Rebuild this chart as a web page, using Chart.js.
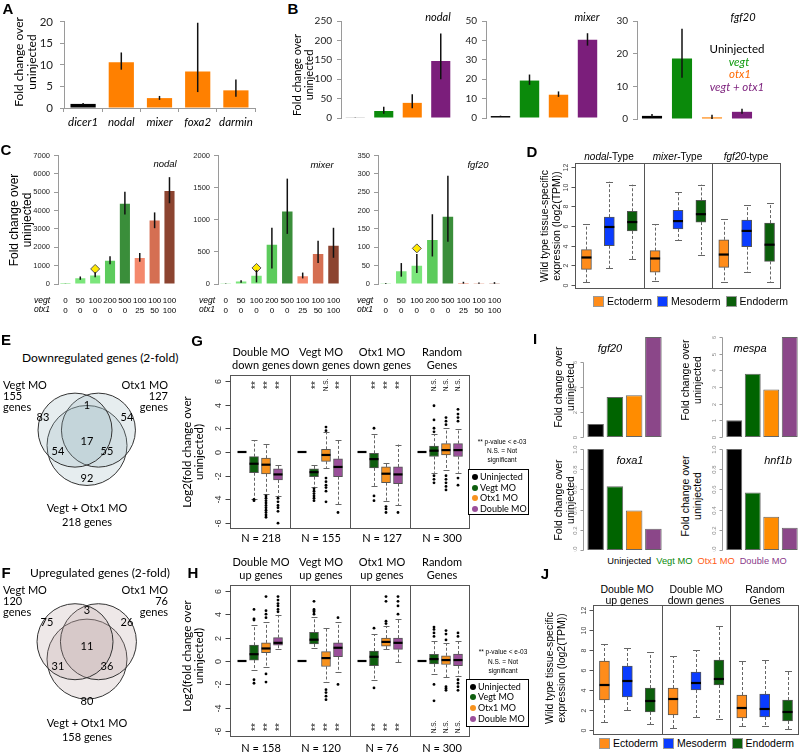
<!DOCTYPE html>
<html><head><meta charset="utf-8">
<script src="https://cdn.jsdelivr.net/npm/chart.js@4.4.1/dist/chart.umd.min.js"></script>
<style>
html,body{margin:0;padding:0;background:#fff}
body{position:relative;width:800px;height:752px;overflow:hidden;font-family:'Liberation Sans',Arial,sans-serif}
canvas{position:absolute;z-index:1}
.t{position:absolute;white-space:nowrap;line-height:1.1;z-index:3;text-align:center}
.box{position:absolute;z-index:2;border:1px solid #000;background:#fff;box-sizing:border-box}
.dot{position:absolute;z-index:3;border-radius:50%;width:6px;height:6px;transform:translate(-50%,-50%)}
.lg{position:absolute;z-index:3;display:flex;align-items:center;white-space:nowrap;transform:translate(-50%,-50%);font-size:10.5px}
.sw{display:inline-block;width:9px;height:9px;border:1px solid #999;margin:0 3px 0 5px}
.il{position:absolute;z-index:3;display:flex;gap:5px;white-space:nowrap;transform:translate(-50%,-50%);font-size:9.3px}
</style></head><body>
<script>
// ================= DATA =================
// Panel A
const aGenes = ['dicer1', 'nodal', 'mixer', 'foxa2', 'darmin'];
const aFold = [0.95, 10.6, 2.3, 8.5, 4.1];
const aLo = [0.8, 8.9, 1.9, 3.7, 2.6];
const aHi = [1.15, 12.9, 2.8, 19.8, 6.6];
// Panel B
const bConds = ['Uninjected', 'vegt', 'otx1', 'vegt + otx1'];
const bNodal = [1, 18, 39, 147];
const bNodalLo = [0.5, 11, 25, 100];
const bNodalHi = [1.5, 29, 61, 218];
const bMixer = [1, 19.3, 12, 40.3];
const bMixerLo = [0.8, 17.1, 10.9, 37.3];
const bMixerHi = [1.2, 22.4, 13.7, 43.7];
const bFgf20 = [0.95, 18.5, 0.5, 2.2];
const bFgf20Lo = [0.5, 12.6, 0, 1.6];
const bFgf20Hi = [1.5, 27.6, 1.3, 3.1];
// Panel C
const cVegt = ['0', '50', '100', '200', '500', '100', '100', '100'];
const cOtx1 = ['0', '0', '0', '0', '0', '25', '50', '100'];
const cNodal = [5, 320, 460, 1260, 4370, 1420, 3460, 5060];
const cNodalLo = [0, 230, 370, 1080, 3780, 1210, 3040, 4400];
const cNodalHi = [10, 410, 640, 1510, 5020, 1690, 3900, 5820];
const cNodalMark = [null, null, 820, null, null, null, null, null];
const cMixer = [3, 40, 127, 611, 1130, 122, 468, 595];
const cMixerLo = [0, 20, 25, 240, 780, 87, 325, 408];
const cMixerHi = [6, 60, 219, 875, 1640, 178, 672, 875];
const cMixerMark = [null, null, 250, null, null, null, null, null];
const cFgf20 = [1, 35, 50, 120, 183, 3, 2, 2];
const cFgf20Lo = [0, 20, 30, 75, 115, 1, 0.5, 0.5];
const cFgf20Hi = [2, 57, 82, 190, 295, 6, 4, 5];
const cFgf20Mark = [null, null, 97, null, null, null, null, null];
// Panel D  [min, q1, median, q3, max] per gene type
const tissues = ['Ectoderm', 'Mesoderm', 'Endoderm'];
const dTypes = ['nodal', 'mixer', 'fgf20'];
const dEcto = [[0.3, 1.6, 2.8, 3.6, 6.2], [0.4, 1.3, 2.7, 3.5, 6.2], [0.3, 1.8, 3.1, 4.6, 6.7]];
const dMeso = [[1.7, 4.0, 5.9, 6.9, 10.5], [4.6, 5.7, 6.5, 7.6, 9.5], [1.3, 3.9, 5.5, 6.6, 8.1]];
const dEndo = [[2.6, 5.5, 6.4, 7.5, 10.2], [3.1, 6.4, 7.2, 8.6, 10.2], [0.3, 2.4, 4.1, 6.3, 8.3]];
const tpmTicks = [0, 2, 4, 6, 8, 10, 12];
// Panels E / F (Venn)
const vennSets = ['Vegt MO', 'Otx1 MO', 'Vegt + Otx1 MO'];
// regions: Vegt only, Otx1 only, Double only, Vegt&Otx1, Vegt&Double, Otx1&Double, all three
const eTotals = [155, 127, 218];
const eRegions = [83, 54, 92, 1, 54, 55, 17];
const fTotals = [120, 76, 158];
const fRegions = [75, 26, 80, 3, 31, 36, 11];
// Panels G / H
const moConds = ['Uninjected', 'Vegt MO', 'Otx1 MO', 'Double MO'];
const log2Ticks = [-6, -4, -2, 0, 2, 4, 6];
const gSets = [['Double MO', 'down genes'], ['Vegt MO', 'down genes'], ['Otx1 MO', 'down genes'], ['Random', 'Genes']];
const gN = [218, 155, 127, 300];
const gVegt = [[-3.94, -1.75, -0.99, -0.39, 0.99], [-2.98, -2.08, -1.70, -1.42, -1.07], [-2.85, -1.34, -0.60, -0.11, 1.5], [-1.75, -0.38, 0.11, 0.49, 1.5]];
const gOtx1 = [[-3.53, -1.84, -1.07, -0.52, 0.71], [-1.34, -0.79, -0.25, 0.22, 1.67], [-4.16, -2.58, -1.83, -1.26, -0.93], [-1.5, -0.25, 0.16, 0.71, 2.0]];
const gDouble = [[-3.67, -2.36, -1.89, -1.42, -1.07], [-4.4, -2.08, -1.26, -0.58, 0.99], [-4.5, -2.66, -1.89, -1.26, 0.63], [-1.75, -0.38, 0.16, 0.71, 1.9]];
const gVegtOut = [[-4.0, -4.1], [-3.1, -3.3, -3.5, -3.7, -3.9, -4.1], [2.0, -3.7, -4.1], [3.9, 2.7, 2.0, 1.7, -2.0, -2.3, -2.6]];
const gOtx1Out = [[-3.7, -3.9, -4.1, -4.3, -4.5, -4.7, -4.9, -5.1, -5.3, -5.5], [2.1, 1.8, -2.2, -2.5, -2.8, -3.0, -3.3, -4.2], [-4.6, -4.8, -5.1], [2.9, 2.6, 2.3, -2.0, -2.3, -2.6, -2.9, -3.2]];
const gDoubleOut = [[-3.9, -4.2, -4.5, -4.7, -5.0, -6.0], [-5.1], [-5.1], [3.6, 3.2, 2.9, 2.6, -2.2, -2.8]];
const gSig = [['**', '**', '**'], ['**', 'N.S.', '**'], ['**', '**', '**'], ['N.S.', 'N.S.', 'N.S.']];
const hSets = [['Double MO', 'up genes'], ['Vegt MO', 'up genes'], ['Otx1 MO', 'up genes'], ['Random', 'Genes']];
const hN = [158, 120, 76, 300];
const hVegt = [[-0.74, 0.08, 0.58, 1.35, 3.06], [1.13, 1.46, 1.82, 2.45, 3.74], [-1.63, -0.39, 0.36, 0.85, 2.29], [-1.1, -0.25, 0.16, 0.58, 1.7]];
const hOtx1 = [[-0.52, 0.72, 1.07, 1.55, 3.33], [-1.76, -0.47, 0.25, 0.8, 2.78], [0.99, 1.27, 1.63, 1.96, 3.0], [-1.4, -0.3, 0.08, 0.45, 1.5]];
const hDouble = [[0.99, 1.35, 1.55, 2.0, 3.94], [-0.93, 0.36, 1.13, 1.55, 3.33], [-0.1, 0.99, 1.55, 1.96, 3.6], [-1.3, -0.4, 0.08, 0.6, 1.7]];
const hVegtOut = [[4.4, 3.6, 3.5, -1.6, -1.9], [5.1, 4.4, 4.3, 4.2, 4.0], [2.8, -2.3], [2.1, 2.4, 2.7, 2.9, -2.0, -3.4]];
const hOtx1Out = [[5.5, 4.3, 4.0, 3.7, -1.1, -1.8], [-2.45, -2.7, -3.0, -3.3], [5.5, 5.1, 3.4, 3.2], [1.8, 2.3, 2.6, -2.2, -2.35, -2.5]];
const hDoubleOut = [[5.5, 5.2, 4.9, 4.7, 4.4, 4.2], [3.7, -2.0], [5.5, 5.1, 4.7, 4.0], [2.1, 2.4, -1.6, -1.9, -2.2, -2.5]];
const hSig = [['**', '**', '**'], ['**', '**', '**'], ['**', '**', '**'], ['N.S.', 'N.S.', 'N.S.']];
// Panel I
const iConds = ['Uninjected', 'Vegt MO', 'Otx1 MO', 'Double MO'];
const iFgf20 = [1.05, 3.2, 3.35, 8];
const iMespa = [1, 3.8, 2.85, 6];
const iFoxa1 = [1, 0.63, 0.39, 0.21];
const iHnf1b = [1, 0.57, 0.33, 0.22];
const iFgfTicks = [0, 2, 4, 6];
const iMespaTicks = [0, 1, 2, 3, 4, 5, 6];
const iFracTicks = [0, 0.2, 0.4, 0.6, 0.8, 1.0];
// Panel J
const jSets = [['Double MO', 'up genes'], ['Double MO', 'down genes'], ['Random', 'Genes']];
const jEcto = [[0.8, 3.0, 4.5, 6.9, 8.6], [0.2, 1.5, 3.1, 4.2, 7.4], [0.4, 1.2, 2.2, 3.5, 6.9]];
const jMeso = [[2.0, 3.3, 4.9, 6.4, 8.2], [1.3, 4.0, 4.7, 5.8, 8.0], [0.4, 1.3, 2.1, 3.6, 7.0]];
const jEndo = [[0.6, 1.8, 2.9, 4.2, 7.8], [1.1, 4.5, 5.1, 7.0, 10.4], [0.1, 0.9, 1.8, 3.0, 5.9]];

// ================= STYLE =================
const LATO = "Lato, 'Open Sans', sans-serif";
const ARIAL = "'Liberation Sans', Arial, sans-serif";
const ORANGE = '#ff8000';
const bCol = ['#000000', '#0b8a0b', '#ff8000', '#7b1e7b'];
const cCol = ['#7be67b', '#7be67b', '#7be67b', '#5ccb5c', '#3a8e3a', '#f4886c', '#d56f52', '#8c4430'];
const TIS_COL = ['#ff8c1a', '#0a3cff', '#0b5e0b'];
const MO_COL = ['#000000', '#0e5e0e', '#f7921e', '#9a4f9a'];
const iCol = ['#000000', '#006400', '#ff8c00', '#8b4789'];

// ================= PLUGINS =================
const errPlugin = {
  id: 'errbars',
  afterDatasetsDraw(chart) {
    const ctx = chart.ctx;
    chart.data.datasets.forEach((ds, di) => {
      if (!ds.errLo) return;
      const meta = chart.getDatasetMeta(di);
      const ys = chart.scales[meta.yAxisID];
      ctx.save();
      ctx.strokeStyle = '#111'; ctx.lineWidth = 1.5;
      meta.data.forEach((el, i) => {
        ctx.beginPath();
        ctx.moveTo(el.x, ys.getPixelForValue(ds.errLo[i]));
        ctx.lineTo(el.x, ys.getPixelForValue(ds.errHi[i]));
        ctx.stroke();
      });
      ctx.restore();
    });
  }
};
const rbox = {
  id: 'rbox',
  beforeDatasetsDraw(chart) {
    const o = chart.canvas._rb; if (!o || !o.items) return;
    const {ctx, scales: {x, y}} = chart;
    ctx.save();
    ctx.strokeStyle = '#666'; ctx.lineWidth = 1;
    o.items.forEach(it => {
      const s = it.s; if (s[0] === s[4]) return;
      const px = Math.round(x.getPixelForValue(it.x)) + 0.5;
      ctx.setLineDash([3, 2]);
      ctx.beginPath();
      ctx.moveTo(px, y.getPixelForValue(s[3])); ctx.lineTo(px, y.getPixelForValue(s[4]));
      ctx.moveTo(px, y.getPixelForValue(s[1])); ctx.lineTo(px, y.getPixelForValue(s[0]));
      ctx.stroke();
      ctx.setLineDash([]);
      const cw = o.capW || 3.5;
      ctx.beginPath();
      [s[0], s[4]].forEach(v => { const py = Math.round(y.getPixelForValue(v)) + 0.5; ctx.moveTo(px - cw, py); ctx.lineTo(px + cw, py); });
      ctx.stroke();
    });
    ctx.restore();
  },
  afterDatasetsDraw(chart) {
    const o = chart.canvas._rb; if (!o) return;
    const {ctx, chartArea: ca, scales: {x, y}} = chart;
    ctx.save();
    if (o.items) o.items.forEach(it => {
      const px = x.getPixelForValue(it.x), py = y.getPixelForValue(it.s[2]);
      const mw = o.medW || 5;
      ctx.strokeStyle = '#000'; ctx.lineWidth = 2.2;
      ctx.beginPath(); ctx.moveTo(px - mw, py); ctx.lineTo(px + mw, py); ctx.stroke();
    });
    ctx.strokeStyle = '#555'; ctx.lineWidth = 1;
    if (o.frame) ctx.strokeRect(Math.round(ca.left) + 0.5, Math.round(ca.top) + 0.5, Math.round(ca.width) - 1, Math.round(ca.height) - 1);
    (o.dividers || []).forEach(d => {
      const px = Math.round(x.getPixelForValue(d)) + 0.5;
      ctx.beginPath(); ctx.moveTo(px, ca.top); ctx.lineTo(px, ca.bottom); ctx.stroke();
    });
    (o.sig || []).forEach(sg => {
      const px = x.getPixelForValue(sg.x);
      const py = sg.top ? ca.top + sg.off : ca.bottom - sg.off;
      ctx.save(); ctx.translate(px, py); ctx.rotate(-Math.PI / 2);
      ctx.fillStyle = '#111'; ctx.font = (sg.t === '**' ? '10px ' : '6.5px ') + ARIAL;
      ctx.textAlign = 'center'; ctx.textBaseline = 'middle';
      ctx.fillText(sg.t, 0, sg.t === '**' ? 2 : 0);
      ctx.restore();
    });
    if (o.yaxis) {
      const ya = o.yaxis, ax = Math.round(ca.left - (ya.off || 0)) + 0.5;
      const ps = ya.ticks.map(v => Math.round(y.getPixelForValue(v)) + 0.5);
      ctx.strokeStyle = ya.color; ctx.lineWidth = 1;
      ctx.beginPath();
      if (ya.line) { ctx.moveTo(ax, Math.min(...ps)); ctx.lineTo(ax, Math.max(...ps)); }
      ps.forEach(p => { ctx.moveTo(ax, p); ctx.lineTo(ax - ya.len, p); });
      ctx.stroke();
      ctx.fillStyle = ya.tcolor; ctx.font = ya.font; ctx.textAlign = 'center'; ctx.textBaseline = 'middle';
      ya.ticks.forEach((v, i) => {
        ctx.save(); ctx.translate(ax - ya.lab, ps[i]); ctx.rotate(-Math.PI / 2);
        ctx.fillText(ya.dec ? v.toFixed(ya.dec) : String(v), 0, 0); ctx.restore();
      });
    }
    ctx.restore();
  }
};
Chart.register(errPlugin, rbox);

// ================= HELPERS =================
function mk(rect, o, cfg) {
  const [l, t, r, b] = rect;
  const yw = o.yw || 0, xh = o.xh || 0, pl = o.pl || 0, pt = o.pt || 0, pr = o.pr || 0, pb = o.pb || 0;
  const W = Math.round(r - l + yw + pl + pr), H = Math.round(b - t + xh + pt + pb);
  const c = document.createElement('canvas');
  c.width = W; c.height = H;
  c.style.left = Math.round(l - yw - pl) + 'px'; c.style.top = Math.round(t - pt) + 'px';
  c.style.width = W + 'px'; c.style.height = H + 'px';
  if (o.rb) c._rb = o.rb;
  document.body.appendChild(c);
  const op = cfg.options = cfg.options || {};
  op.responsive = false; op.maintainAspectRatio = false; op.animation = false; op.devicePixelRatio = 1;
  op.layout = {padding: {left: pl, top: pt, right: pr, bottom: pb}};
  op.plugins = {legend: {display: false}, tooltip: {enabled: false}};
  const sc = op.scales || {};
  if (sc.y && sc.y.display !== false) sc.y.afterFit = s => { s.width = yw; };
  if (sc.x && sc.x.display !== false) sc.x.afterFit = s => { s.height = xh; };
  return new Chart(c, cfg);
}
function T(x, y, html, o = {}) {
  const d = document.createElement('div');
  d.className = 't'; d.innerHTML = html;
  let tr = 'translate(-50%,-50%)';
  if (o.rot) tr = 'translate(-50%,-50%) rotate(-90deg)';
  else if (o.a === 'l') { tr = 'translate(0,-50%)'; d.style.textAlign = 'left'; }
  else if (o.a === 'r') { tr = 'translate(-100%,-50%)'; d.style.textAlign = 'right'; }
  d.style.left = x + 'px'; d.style.top = y + 'px'; d.style.transform = tr;
  d.style.fontSize = (o.fs || 11) + 'px'; d.style.fontFamily = o.ff || ARIAL; d.style.color = o.c || '#000';
  if (o.i) d.style.fontStyle = 'italic';
  if (o.b) d.style.fontWeight = 'bold';
  if (o.lh) d.style.lineHeight = o.lh;
  document.body.appendChild(d);
}
function xlY(min, max, step, fs, ff, pad) {
  return {min, max, ticks: {stepSize: step, font: {size: fs, family: ff}, color: '#222', padding: pad, format: {useGrouping: false}},
    grid: {drawOnChartArea: false, tickLength: 4, color: '#9a9a9a'}, border: {color: '#9a9a9a'}};
}
function bChart(rect, yw, vals, lo, hi, max, step) {
  mk(rect, {yw, pt: 8, pr: 3, pb: 6}, {type: 'bar',
    data: {labels: bConds, datasets: [{data: vals, errLo: lo, errHi: hi, backgroundColor: bCol, barPercentage: 0.67, categoryPercentage: 1}]},
    options: {scales: {x: {display: false}, y: xlY(0, max, step, 10, LATO, 5)}}});
}
function cChart(rect, yw, vals, lo, hi, mark, max, step) {
  mk(rect, {yw, xh: 40, pt: 6, pr: 3}, {type: 'bar',
    data: {labels: cVegt.map((v, i) => [v, cOtx1[i]]), datasets: [
      {type: 'line', data: mark, showLine: false, pointStyle: 'rectRot', pointRadius: 4.5, pointBackgroundColor: '#ffe800', pointBorderColor: '#555', pointBorderWidth: 1},
      {data: vals, errLo: lo, errHi: hi, backgroundColor: cCol, barPercentage: 0.68, categoryPercentage: 1}]},
    options: {scales: {
      x: {grid: {display: false, drawTicks: false}, border: {display: false}, ticks: {font: {size: 8, family: ARIAL, lineHeight: 1.15}, color: '#000', padding: 12.5, maxRotation: 0, autoSkip: false}},
      y: xlY(0, max, step, 7.5, ARIAL, 4)}}});
}
function boxPanel(rect, xr, yr, items, pts, rb, bw) {
  const bx = items.filter(it => it.c);
  const ds = [{type: 'bar', data: bx.map(it => ({x: it.x, y: [it.s[1], it.s[3]]})), backgroundColor: bx.map(it => it.c),
    borderColor: '#555', borderWidth: 1, borderSkipped: false, barThickness: bw}];
  if (pts.length) ds.push({type: 'scatter', data: pts, pointRadius: 1.4, pointBackgroundColor: '#000', pointBorderWidth: 0});
  rb.items = items;
  mk(rect, {pl: 20, pt: 2, pr: 2, pb: 2, rb}, {type: 'bar', data: {datasets: ds}, options: {scales: {
    x: {type: 'linear', min: xr[0], max: xr[1], display: false, offset: false},
    y: {type: 'linear', min: yr[0], max: yr[1], display: false}}}});
}
function tisItems(ecto, meso, endo) {
  const it = [];
  for (let g = 0; g < 3; g++) {
    it.push({x: g * 3 + 1, s: ecto[g], c: TIS_COL[0]});
    it.push({x: g * 3 + 2, s: meso[g], c: TIS_COL[1]});
    it.push({x: g * 3 + 3, s: endo[g], c: TIS_COL[2]});
  }
  return it;
}
function moPanel(rect, vegt, otx1, dbl, vOut, oOut, dOut, sig, sigTop) {
  const items = [], pts = [], sg = [];
  for (let g = 0; g < 4; g++) {
    const b = g * 5;
    items.push({x: b + 1, s: [0, 0, 0, 0, 0], c: null});
    [vegt, otx1, dbl].forEach((arr, k) => items.push({x: b + 2 + k, s: arr[g], c: MO_COL[k + 1]}));
    [vOut, oOut, dOut].forEach((arr, k) => arr[g].forEach(v => pts.push({x: b + 2 + k, y: v})));
    sig[g].forEach((t, k) => sg.push({x: b + 2 + k, t, top: sigTop, off: 10}));
  }
  boxPanel(rect, [0, 20], [-6.49, 6.49], items, pts, {frame: true, dividers: [5, 10, 15], sig: sg, medW: 4.5, capW: 3,
    yaxis: {ticks: log2Ticks, off: 0, len: 5, lab: 12, font: '9px ' + ARIAL, color: '#444', tcolor: '#333', line: false}}, 9);
}
function iChart(rect, vals, max, ticks, dec) {
  mk(rect, {pl: 18, pt: 6, pr: 1, pb: 2, rb: {yaxis: {ticks, dec, off: 3, len: 3, lab: 8, font: '6px ' + ARIAL, color: '#999', tcolor: '#888', line: true}}}, {
    type: 'bar', data: {labels: iConds, datasets: [{data: vals, backgroundColor: iCol, borderColor: '#666', borderWidth: 1, borderSkipped: false, barPercentage: 0.86, categoryPercentage: 1}]},
    options: {scales: {x: {display: false}, y: {min: 0, max, display: false}}}});
}
function venn(rect, centers, radii, fill) {
  mk(rect, {}, {type: 'bubble', data: {datasets: centers.map((c, k) => ({data: [{x: c[0], y: c[1], r: radii[k]}], backgroundColor: fill, borderColor: '#333', borderWidth: 1, clip: false}))},
    options: {scales: {x: {min: -90, max: 90, display: false}, y: {min: -70, max: 70, display: false}}}});
}
function tisLegend(cx, y) {
  const d = document.createElement('div'); d.className = 'lg';
  d.style.left = cx + 'px'; d.style.top = y + 'px';
  d.innerHTML = tissues.map((t, k) => `<span class="sw" style="background:${TIS_COL[k]}"></span>${t}`).join('');
  document.body.appendChild(d);
}
function moLegend(x, y, w, h, ys) {
  const b = document.createElement('div'); b.className = 'box';
  Object.assign(b.style, {left: x + 'px', top: y + 'px', width: w + 'px', height: h + 'px'});
  document.body.appendChild(b);
  moConds.forEach((m, k) => {
    const d = document.createElement('div'); d.className = 'dot';
    Object.assign(d.style, {left: (x + 7) + 'px', top: ys[k] + 'px', background: MO_COL[k]});
    document.body.appendChild(d);
    T(x + 12, ys[k], m, {a: 'l', fs: 9, ff: LATO});
  });
}

// ================= PANEL A =================
mk([64, 16, 255, 108], {yw: 64, xh: 30, pt: 8, pr: 8}, {type: 'bar',
  data: {labels: aGenes, datasets: [{data: aFold, errLo: aLo, errHi: aHi, backgroundColor: aGenes.map((g, i) => i ? ORANGE : '#000'), barPercentage: 0.66, categoryPercentage: 1}]},
  options: {scales: {
    x: {grid: {drawOnChartArea: false, tickLength: 4, color: '#9a9a9a', offset: true}, border: {color: '#9a9a9a'},
        ticks: {font: {size: 11.5, family: LATO, style: 'italic'}, color: '#000', padding: 3, maxRotation: 0, autoSkip: false}},
    y: xlY(0, 20, 5, 11.5, LATO, 7)}}});
T(8, 9, 'A', {b: true, fs: 15});
T(26, 62, 'Fold change over<br>uninjected', {rot: true, fs: 12, ff: LATO, lh: 1.05});

// ================= PANEL B =================
bChart([341, 18, 455, 123], 30, bNodal, bNodalLo, bNodalHi, 250, 50);
bChart([486, 18, 602, 123], 25, bMixer, bMixerLo, bMixerHi, 50, 10);
bChart([637, 18, 757, 124], 22, bFgf20, bFgf20Lo, bFgf20Hi, 30, 10);
T(293, 9, 'B', {b: true, fs: 15});
T(303, 75, 'Fold change over<br>uninjected', {rot: true, fs: 11, ff: LATO, lh: 1.05});
T(438, 17, 'nodal', {i: true, fs: 11, ff: LATO});
T(587, 17, 'mixer', {i: true, fs: 11, ff: LATO});
T(743, 17, 'fgf20', {i: true, fs: 11, ff: LATO});
T(737, 49, bConds[0], {fs: 11.5, ff: LATO});
T(739, 62, bConds[1], {fs: 11.5, ff: LATO, i: true, c: '#0b9a0b'});
T(740, 74, bConds[2], {fs: 11.5, ff: LATO, i: true, c: '#ff6a00'});
T(737, 87, bConds[3], {fs: 11.5, ff: LATO, i: true, c: '#7b1e7b'});

// ================= PANEL C =================
cChart([58, 153, 186, 284], 30, cNodal, cNodalLo, cNodalHi, cNodalMark, 7000, 1000);
cChart([218, 153, 350, 284], 30, cMixer, cMixerLo, cMixerHi, cMixerMark, 2000, 500);
cChart([378, 153, 511, 284], 26, cFgf20, cFgf20Lo, cFgf20Hi, cFgf20Mark, 350, 50);
T(6, 150, 'C', {b: true, fs: 15});
T(21, 220, 'Fold change over<br>uninjected', {rot: true, fs: 12, lh: 1.05});
T(165, 164, 'nodal', {i: true, fs: 9.5});
T(322, 165, 'mixer', {i: true, fs: 9.5});
T(478, 165, 'fgf20', {i: true, fs: 9.5});
[50, 215, 373].forEach(x => { T(x, 301, 'vegt', {a: 'r', i: true, fs: 8.5}); T(x, 310.2, 'otx1', {a: 'r', i: true, fs: 8.5}); });

// ================= PANEL D =================
boxPanel([575, 163, 781, 289], [0.5, 9.5], [-0.4, 12.4], tisItems(dEcto, dMeso, dEndo), [],
  {frame: true, dividers: [3.5, 6.5], medW: 5, capW: 3.5,
   yaxis: {ticks: tpmTicks, off: 0, len: 4, lab: 9, font: '7px ' + ARIAL, color: '#555', tcolor: '#444', line: false}}, 10);
T(532, 152, 'D', {b: true, fs: 15});
T(551, 226, 'Wild type tissue-specific<br>expression (log2(TPM))', {rot: true, fs: 10.5, lh: 1.1});
dTypes.forEach((g, k) => T(609 + k * 68.5, 156, `<i>${g}</i>-${k < 2 ? 'Type' : 'type'}`, {fs: 10}));
tisLegend(688, 301);

// ================= PANELS E / F =================
venn([-3, 368, 177, 508], [[-22, 19], [21, 19], [0, -18]], [37, 37, 40], 'rgba(150,180,190,0.24)');
venn([-3, 580, 177, 720], [[-22, 20], [21, 20], [0, -22]], [38, 38, 40], 'rgba(185,160,160,0.24)');
function vennText(dy, totals, regions, title, pos) {
  T(6, 340 + dy, dy ? 'F' : 'E', {b: true, fs: 15});
  T(pos.tx, pos.ty, title, {a: 'l', fs: 12, ff: LATO});
  T(3, pos.l[0], vennSets[0], {a: 'l', fs: 11, ff: LATO});
  T(3, pos.l[1], String(totals[0]), {a: 'l', fs: 11, ff: LATO});
  T(3, pos.l[2], 'genes', {a: 'l', fs: 11, ff: LATO});
  T(168, pos.l[0], vennSets[1], {a: 'r', fs: 11, ff: LATO});
  T(168, pos.l[1], String(totals[1]), {a: 'r', fs: 11, ff: LATO});
  T(168, pos.l[2], 'genes', {a: 'r', fs: 11, ff: LATO});
  pos.r.forEach((p, k) => T(p[0], p[1], String(regions[k]), {fs: 11, ff: LATO}));
  T(87, pos.b[0], vennSets[2], {fs: 11, ff: LATO});
  T(87, pos.b[1], totals[2] + ' genes', {fs: 11, ff: LATO});
}
vennText(0, eTotals, eRegions, 'Downregulated genes (2-fold)', {tx: 22, ty: 358, l: [385, 396, 407],
  r: [[43, 417], [127, 417], [87, 478], [87, 405], [58, 451], [107, 451], [87, 441]], b: [508, 522]});
vennText(233, fTotals, fRegions, 'Upregulated genes (2-fold)', {tx: 30, ty: 573, l: [590, 601, 612],
  r: [[47, 622], [127, 622], [87, 701], [87, 610], [58, 666], [107, 666], [87, 646]], b: [723, 737]});

// ================= PANELS G / H =================
moPanel([230, 373, 472, 531], gVegt, gOtx1, gDouble, gVegtOut, gOtx1Out, gDoubleOut, gSig, true);
moPanel([230, 583, 472, 739], hVegt, hOtx1, hDouble, hVegtOut, hOtx1Out, hDoubleOut, hSig, false);
T(197, 341, 'G', {b: true, fs: 15});
T(193, 573, 'H', {b: true, fs: 15});
T(193, 452, 'Log2(fold change over<br>uninjected)', {rot: true, fs: 11.5, ff: LATO, lh: 1.05});
T(193, 656, 'Log2(fold change over<br>uninjected)', {rot: true, fs: 11.5, ff: LATO, lh: 1.05});
[261, 321, 382, 442].forEach((x, k) => {
  T(x, 352, gSets[k][0], {fs: 11, ff: LATO}); T(x, 364.5, gSets[k][1], {fs: 11, ff: LATO});
  T(x, 538, 'N = ' + gN[k], {fs: 11, ff: LATO});
  T(x, 562, hSets[k][0], {fs: 11, ff: LATO}); T(x, 575, hSets[k][1], {fs: 11, ff: LATO});
  T(x, 748, 'N = ' + hN[k], {fs: 11, ff: LATO});
});
T(502, 442, '** p-value &lt; e-03', {fs: 6.5}); T(502, 451, 'N.S. = Not', {fs: 6.5}); T(502, 460, 'significant', {fs: 6.5});
T(503, 652, '** p-value &lt; e-03', {fs: 6.5}); T(503, 662, 'N.S. = Not', {fs: 6.5}); T(503, 670.5, 'significant', {fs: 6.5});
moLegend(468, 469, 61, 46, [477, 487.5, 498, 509]);
moLegend(466, 679, 63, 48, [686.5, 697, 707.5, 719]);

// ================= PANEL I =================
iChart([586, 337, 663, 437], iFgf20, 8, iFgfTicks, 0);
iChart([725, 337, 799, 437], iMespa, 6, iMespaTicks, 0);
iChart([586, 449, 663, 550], iFoxa1, 1, iFracTicks, 1);
iChart([725, 449, 799, 550], iHnf1b, 1, iFracTicks, 1);
T(535, 339, 'I', {b: true, fs: 15});
[[565, 387], [692, 380], [565, 500], [692, 496]].forEach(p => T(p[0], p[1], 'Fold change over<br>uninjected', {rot: true, fs: 10.5, lh: 1.1}));
T(610, 348, 'fgf20', {i: true, fs: 11}); T(750, 348, 'mespa', {i: true, fs: 11});
T(630, 460, 'foxa1', {i: true, fs: 11}); T(778, 460, 'hnf1b', {i: true, fs: 11});
const iLegCol = ['#000', '#0a8a0a', '#ff5a14', '#8b3a8b'];
(() => {
  const d = document.createElement('div'); d.className = 'il';
  d.style.left = '697px'; d.style.top = '561px';
  d.innerHTML = iConds.map((c, k) => `<span style="color:${iLegCol[k]}">${c}</span>`).join('');
  document.body.appendChild(d);
})();

// ================= PANEL J =================
boxPanel([593, 605, 799, 735], [0.5, 9.5], [-0.5, 12.5], tisItems(jEcto, jMeso, jEndo), [],
  {frame: true, dividers: [3.5, 6.5], medW: 5, capW: 3.5,
   yaxis: {ticks: tpmTicks, off: 0, len: 4, lab: 9, font: '7px ' + ARIAL, color: '#555', tcolor: '#444', line: false}}, 10);
T(545, 574, 'J', {b: true, fs: 15});
T(556, 668, 'Wild type tissue-specific<br>expression (log2(TPM))', {rot: true, fs: 10.5, lh: 1.1});
[627, 696, 765].forEach((x, k) => { T(x, 590, jSets[k][0], {fs: 10.5}); T(x, 601, jSets[k][1], {fs: 10.5}); });
tisLegend(694, 743);
</script>
</body></html>
